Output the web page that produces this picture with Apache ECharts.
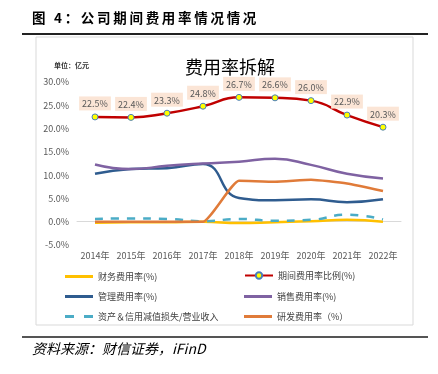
<!DOCTYPE html>
<html><head><meta charset="utf-8">
<script src="https://cdn.jsdelivr.net/npm/echarts@6/dist/echarts.min.js"></script>
<style>html,body{margin:0;padding:0;background:#fff}#c{width:438px;height:374px}</style>
</head><body><div id="c"></div>
<script>
const categories = ['2014年','2015年','2016年','2017年','2018年','2019年','2020年','2021年','2022年'];
const financeRate = [-0.2, -0.1, -0.1, 0.0, -0.3, -0.1, 0.1, 0.4, 0.0];
const periodRate = [22.5, 22.4, 23.3, 24.8, 26.7, 26.6, 26.0, 22.9, 20.3];
const mgmtRate = [10.3, 11.3, 11.5, 12.4, 5.1, 4.6, 4.8, 4.2, 4.8];
const salesRate = [12.3, 11.3, 12.0, 12.5, 12.9, 13.5, 12.2, 10.3, 9.3];
const impairRate = [0.6, 0.7, 0.6, 0.1, 0.6, 0.2, 0.4, 1.5, 0.5];
const rdRate = [0, 0, 0, 0, 8.8, 8.6, 9.0, 8.2, 6.6];
const yTicks = {min: -5, max: 30, interval: 5};

const names = ['财务费用率(%)','期间费用率比例(%)','管理费用率(%)','销售费用率(%)','资产＆信用减值损失/营业收入','研发费用率（%）'];
const font = '"Noto Sans CJK SC", "Noto Sans", sans-serif';
const chart = echarts.init(document.getElementById('c'));
function ln(name, data, color, extra) {
  return Object.assign({
    name, type: 'line', data, smooth: true, symbol: 'none',
    lineStyle: {color, width: 2.5}, itemStyle: {color}
  }, extra || {});
}
const header = '图 4：公司期间费用率情况情况'.split('').join('\u2009');
const legendText = {fontSize: 9, color: '#404040', fontFamily: font};
const dashIcon = 'path://M0,0h9v3h-9z M19,0h9v3h-9z';
const lineLegend = {orient: 'vertical', itemWidth: 28, itemHeight: 3, itemGap: 11, icon: 'rect', textStyle: legendText};
chart.setOption({
  animation: false,
  textStyle: {fontFamily: font},
  title: {text: '费用率拆解', left: 225, textAlign: 'center', top: 53,
    textStyle: {fontSize: 18, fontWeight: 'normal', color: '#000', fontFamily: font}},
  graphic: [
    {type: 'text', left: 32, top: 11, style: {text: header, font: 'bold 13.5px ' + font, fill: '#000'}},
    {type: 'rect', shape: {x: 22, y: 33, width: 406, height: 2}, style: {fill: '#222'}},
    {type: 'rect', shape: {x: 36, y: 37, width: 377, height: 288}, style: {fill: 'none', stroke: '#d9d9d9', lineWidth: 1}},
    {type: 'text', left: 54, top: 62, style: {text: '单位：亿元', font: 'bold 7px ' + font, fill: '#333'}},
    {type: 'rect', shape: {x: 22, y: 336, width: 406, height: 2}, style: {fill: '#555'}},
    {type: 'text', left: 32, top: 342, style: {text: '资料来源：财信证券，iFinD', font: 'italic 14px ' + font, fill: '#000'}}
  ],
  grid: {left: 77, right: 37, top: 82, bottom: 129, containLabel: false},
  legend: [
    Object.assign({}, lineLegend, {left: 60, top: 267,
     data: [names[0], names[2], {name: names[4], icon: dashIcon}]}),
    {orient: 'vertical', left: 239, top: 266, itemWidth: 28, itemHeight: 8, itemGap: 10,
     data: [names[1]], textStyle: legendText},
    Object.assign({}, lineLegend, {left: 239, top: 287, data: [names[3], names[5]]})
  ],
  xAxis: {type: 'category', data: categories, boundaryGap: true,
    axisLine: {onZero: true, lineStyle: {color: '#d9d9d9'}}, axisTick: {show: false},
    axisLabel: {color: '#595959', fontSize: 9, margin: 6, interval: 0}},
  yAxis: {type: 'value', min: yTicks.min, max: yTicks.max, interval: yTicks.interval,
    splitLine: {show: false}, axisLine: {show: false}, axisTick: {show: false},
    axisLabel: {color: '#595959', fontSize: 9, formatter: v => v.toFixed(1) + '%', margin: 8}},
  series: [
    ln(names[0], financeRate, '#FFC000'),
    ln(names[2], mgmtRate, '#2F5C8F'),
    ln(names[4], impairRate, '#4BACC6', {lineStyle: {color: '#4BACC6', width: 2.5, type: [8, 8]}}),
    ln(names[3], salesRate, '#7F62A2'),
    ln(names[5], rdRate, '#E07B39', {smooth: 0.15}),
    ln(names[1], periodRate, '#C00000', {symbol: 'circle', symbolSize: 6,
      itemStyle: {color: '#FFFF00', borderColor: '#4A7EBB', borderWidth: 1},
      lineStyle: {color: '#C00000', width: 2.5}, z: 5,
      label: {show: true, position: 'top', distance: 3, formatter: p => p.value.toFixed(1) + '%',
        color: '#595959', fontSize: 9, backgroundColor: '#FBE5D6', padding: [3, 3, 2, 3]}})
  ]
});
</script></body></html>
